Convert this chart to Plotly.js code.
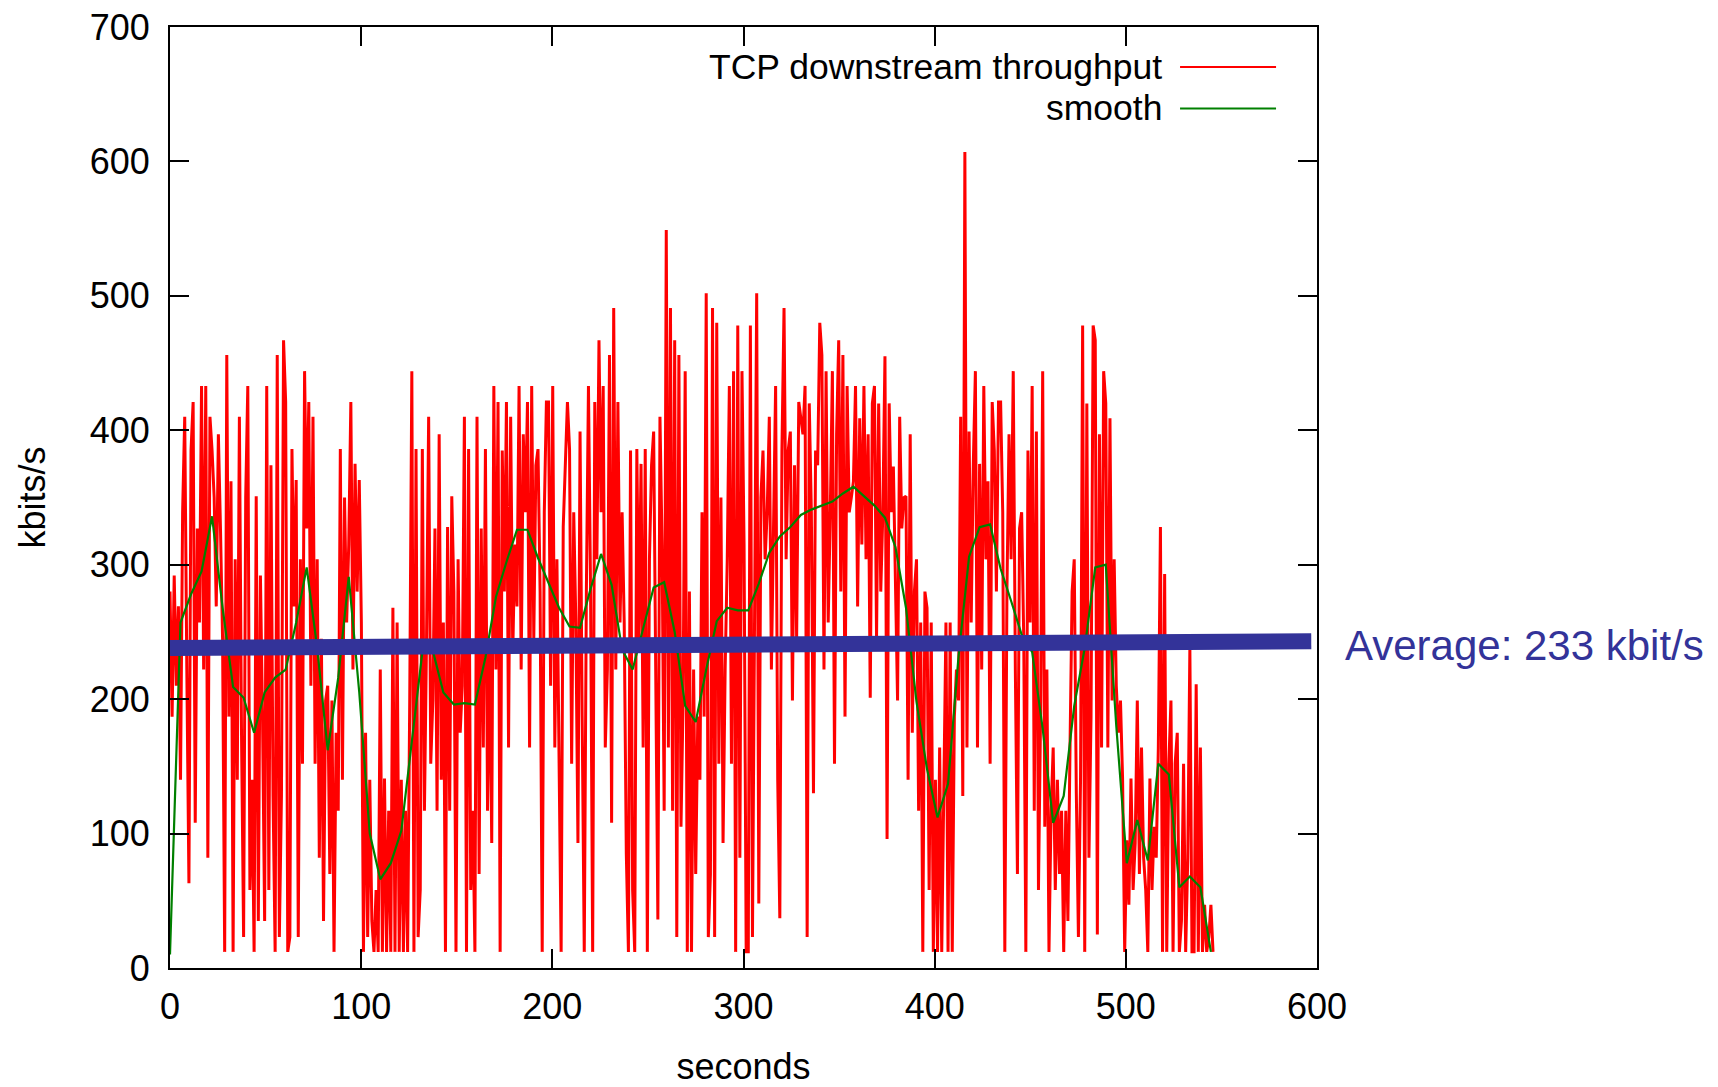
<!DOCTYPE html>
<html><head><meta charset="utf-8">
<script src="https://cdn.plot.ly/plotly-3.0.1.min.js"></script>
<style>html,body{margin:0;padding:0;background:#fff}#chart{width:1718px;height:1087px}</style>
</head><body><div id="chart"></div>
<script>
// Sample times: first sample and spacing (seconds)
const throughputStart = 0;
const throughputStep = 1.1;
// TCP downstream throughput, kbit/s
const throughputKbps = [
280,187,292,210,269, 140,339,410,222,63, 385,421,108,327,257, 433,222,433,82,410, 385,350,269,397,327,
245,12,456,187,362, 12,304,140,410,175, 23,350,433,58,140, 12,351,35,292,187, 35,433,58,374,128,
12,456,23,128,467, 421,12,23,386,269, 363,23,304,152,444, 327,421,210,410,152, 304,82,245,35,199,
210,70,199,12,175, 117,386,140,350,257, 315,421,222,375,280, 363,257,12,175,23, 140,35,12,58,12,
222,12,141,12,117, 12,268,12,257,12, 140,12,117,12,199, 444,12,386,23,58, 386,117,245,410,152,
199,327,117,397,140, 257,12,328,117,351, 280,12,304,175,210, 410,12,386,58,117, 12,410,70,327,164,
386,117,245,93,433, 222,421,12,385,280, 421,164,410,234,315, 269,433,222,397,339, 421,164,433,245,374,
386,280,12,339,421, 421,210,433,164,304, 152,12,328,374,421, 386,152,339,257,93, 399,187,12,280,433,
280,12,421,304,467, 339,433,164,222,456, 108,491,222,421,257, 339,257,85,12,385, 58,12,386,245,375,
164,386,12,304,374, 399,222,36,410,315, 117,549,164,491,117, 467,23,456,105,199, 444,12,280,12,222,
70,187,140,339,187, 502,23,70,491,23, 480,152,350,93,222, 304,433,152,444,12, 478,82,444,315,12,
12,478,23,315,502, 48,350,385,304,339, 410,222,339,433,140, 37,385,491,304,385, 399,199,374,245,421,
409,397,433,23,420, 339,130,385,374,480, 456,222,444,257,339, 444,152,397,467,280, 456,187,433,339,350,
362,433,269,409,315, 433,304,397,201,420, 433,245,420,280,339, 455,96,420,339,373, 280,199,410,327,350,
351,140,397,175,280, 304,117,257,12,280, 268,58,257,12,140, 12,164,12,117,257, 12,257,12,187,222,
199,410,128,607,164, 399,257,374,444,164, 375,222,433,304,362, 152,421,385,280,421, 421,339,12,280,397,
304,444,222,70,327, 339,245,12,385,257, 433,117,399,58,187, 444,105,222,12,117, 164,58,140,70,117,
12,117,35,164,280, 304,130,23,140,478, 12,420,82,187,478, 467,25,397,164,444, 420,164,409,199,304,
210,175,199,141,12, 95,47,141,58,93, 199,70,164,82,58, 12,141,58,105,82, 164,328,12,293,12,
152,199,12,152,175, 12,35,152,12,82, 238,12,12,211,12, 164,12,47,12,23, 47,12
];
// Smoothed curve
const smoothStart = 0;
const smoothStep = 5.5;
const smoothKbps = [
10,257,278,295,336,268,209,201,175,205,
216,222,257,298,238,162,216,291,205,100,
66,78,102,171,235,236,205,196,197,196,
231,276,302,326,326,305,286,268,254,253,
282,308,285,237,222,253,283,287,250,195,
183,222,258,268,266,266,286,309,321,328,
337,341,344,347,353,358,351,344,335,313,
268,198,148,112,137,232,306,328,330,297,
273,248,235,178,108,128,195,238,298,300,
180,78,110,80,152,144,60,68,60,12
];
// Average line as drawn on the slide
const averageX = [0, 597];
const averageY = [238, 243];
const averageLabel = 'Average: 233 kbit/s';
const seriesNames = ['TCP downstream throughput', 'smooth'];
const xTicks = [0,100,200,300,400,500,600];
const yTicks = [0,100,200,300,400,500,600,700];
const xTitle = 'seconds';
const yTitle = 'kbits/s';

const tX = throughputKbps.map((_, i) => +(throughputStart + i*throughputStep).toFixed(2));
const sX = smoothKbps.map((_, i) => +(smoothStart + i*smoothStep).toFixed(2));

const RED = '#ff0000', GREEN = '#008000', BLUE = '#333399';
const FONT = 'Liberation Sans, Arial, Helvetica, sans-serif';

const traces = [
  {x: tX, y: throughputKbps, type: 'scatter', mode: 'lines', name: seriesNames[0],
   line: {color: RED, width: 3}, hoverinfo: 'skip'},
  {x: sX, y: smoothKbps, type: 'scatter', mode: 'lines', name: seriesNames[1],
   line: {color: GREEN, width: 2.2}, hoverinfo: 'skip'},
  {x: averageX, y: averageY, type: 'scatter', mode: 'lines', name: 'average',
   line: {color: BLUE, width: 16}, hoverinfo: 'skip'}
];

const axisCommon = {
  showline: true, linecolor: '#000', linewidth: 2, mirror: 'ticks',
  ticks: 'inside', ticklen: 19, tickwidth: 2, tickcolor: '#000',
  showgrid: false, zeroline: false,
  tickfont: {family: FONT, size: 36, color: '#000'}
};

const layout = {
  width: 1718, height: 1087,
  margin: {l: 170, r: 401, t: 27, b: 119},
  paper_bgcolor: '#fff', plot_bgcolor: '#fff',
  showlegend: false,
  font: {family: FONT, size: 36, color: '#000'},
  xaxis: Object.assign({}, axisCommon, {
    range: [0, 600], tickvals: xTicks, ticktext: xTicks.map(String),
    ticklabelstandoff: 6,
    title: {text: xTitle, font: {family: FONT, size: 36, color: '#000'}, standoff: 43}
  }),
  yaxis: Object.assign({}, axisCommon, {
    range: [0, 700], tickvals: yTicks, ticktext: yTicks.map(String),
    ticklabelstandoff: 11,
    title: {text: yTitle, font: {family: FONT, size: 36, color: '#000'}, standoff: 33}
  }),
  shapes: [
    {type: 'line', xref: 'paper', yref: 'paper', x0: 0.8806, x1: 0.9643, y0: 0.9575, y1: 0.9575,
     line: {color: RED, width: 2}},
    {type: 'line', xref: 'paper', yref: 'paper', x0: 0.8806, x1: 0.9643, y0: 0.9134, y1: 0.9134,
     line: {color: GREEN, width: 2}}
  ],
  annotations: [
    {xref: 'paper', yref: 'paper', x: 0.8667, y: 0.9575, xanchor: 'right', yanchor: 'middle',
     text: seriesNames[0], showarrow: false, font: {family: FONT, size: 35.5, color: '#000'}},
    {xref: 'paper', yref: 'paper', x: 0.8667, y: 0.9134, xanchor: 'right', yanchor: 'middle',
     text: seriesNames[1], showarrow: false, font: {family: FONT, size: 35.5, color: '#000'}},
    {xref: 'paper', yref: 'y', x: 1.0227, y: averageY[1], xanchor: 'left', yanchor: 'middle', yshift: -4,
     text: averageLabel, showarrow: false, font: {family: FONT, size: 42, color: BLUE}}
  ]
};

Plotly.newPlot('chart', traces, layout, {displayModeBar: false, staticPlot: true});
</script>
</body></html>
